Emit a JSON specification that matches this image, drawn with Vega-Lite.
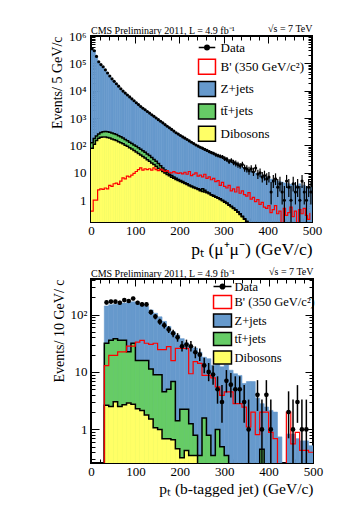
{
  "$schema": "https://vega.github.io/schema/vega-lite/v6.json",
  "background": "white",
  "padding": {"left": 49, "top": 22, "right": 5, "bottom": 5},
  "spacing": 6,
  "resolve": {
    "scale": {"x": "independent", "y": "independent", "fill": "independent", "stroke": "independent", "shape": "independent"},
    "legend": {"fill": "independent", "stroke": "independent", "shape": "independent"}
  },
  "config": {
    "view": {"stroke": "#000000", "strokeWidth": 2},
    "axis": {"grid": false, "domain": false, "tickColor": "#000000", "tickWidth": 1, "labelFont": "Liberation Serif", "labelFontSize": 13, "labelColor": "#000000", "titleFont": "Liberation Serif", "titleFontSize": 14, "titleFontWeight": "normal", "titleColor": "#000000", "labelFlush": false, "labelOverlap": false},
    "legend": {"labelFont": "Liberation Serif", "labelFontSize": 13, "labelColor": "#000000"},
    "title": {"font": "Liberation Serif", "fontSize": 10, "fontWeight": "normal", "color": "#000000", "anchor": "start"}
  },
  "vconcat": [
    {
      "width": 221,
      "height": 186,
      "title": {"text": "CMS Preliminary 2011, L = 4.9 fb⁻¹", "frame": "group", "offset": 0, "dy": 12},
      "data": {"values": [
        {"lo":0,"hi":5,"c":2.5,"b":355000,"g":126,"w":79.4,"r":0.4,"d":340000},
        {"lo":5,"hi":10,"c":7.5,"b":282000,"g":178,"w":112,"r":1.0,"d":290000},
        {"lo":10,"hi":15,"c":12.5,"b":178000,"g":224,"w":151,"r":1.0,"d":180000},
        {"lo":15,"hi":20,"c":17.5,"b":112000,"g":263,"w":182,"r":2.4,"d":115000},
        {"lo":20,"hi":25,"c":22.5,"b":89100,"g":295,"w":200,"r":2.6,"d":90000},
        {"lo":25,"hi":30,"c":27.5,"b":74100,"g":316,"w":204,"r":2.5,"d":75000},
        {"lo":30,"hi":35,"c":32.5,"b":57500,"g":324,"w":204,"r":2.8,"d":58000},
        {"lo":35,"hi":40,"c":37.5,"b":43700,"g":316,"w":195,"r":2.6,"d":44500},
        {"lo":40,"hi":45,"c":42.5,"b":33900,"g":302,"w":186,"r":3.5,"d":34500},
        {"lo":45,"hi":50,"c":47.5,"b":26900,"g":288,"w":174,"r":3.2,"d":27300},
        {"lo":50,"hi":55,"c":52.5,"b":21900,"g":269,"w":162,"r":4.0,"d":22000},
        {"lo":55,"hi":60,"c":57.5,"b":17800,"g":251,"w":151,"r":4.2,"d":18000},
        {"lo":60,"hi":65,"c":62.5,"b":14500,"g":229,"w":138,"r":3.8,"d":14700},
        {"lo":65,"hi":70,"c":67.5,"b":11700,"g":209,"w":126,"r":5.0,"d":11800},
        {"lo":70,"hi":75,"c":72.5,"b":9550,"g":186,"w":115,"r":6.6,"d":9700},
        {"lo":75,"hi":80,"c":77.5,"b":8130,"g":166,"w":102,"r":6.0,"d":8200},
        {"lo":80,"hi":85,"c":82.5,"b":6920,"g":148,"w":93.3,"r":7.6,"d":7000},
        {"lo":85,"hi":90,"c":87.5,"b":5890,"g":132,"w":83.2,"r":7.1,"d":5950},
        {"lo":90,"hi":95,"c":92.5,"b":5010,"g":117,"w":74.1,"r":8.3,"d":5050},
        {"lo":95,"hi":100,"c":97.5,"b":4270,"g":105,"w":66.1,"r":9.5,"d":4300},
        {"lo":100,"hi":105,"c":102.5,"b":3630,"g":93.3,"w":57.5,"r":11.2,"d":3650},
        {"lo":105,"hi":110,"c":107.5,"b":3090,"g":83.2,"w":51.3,"r":13.2,"d":3120},
        {"lo":110,"hi":115,"c":112.5,"b":2630,"g":72.4,"w":44.7,"r":15.1,"d":2650},
        {"lo":115,"hi":120,"c":117.5,"b":2290,"g":64.6,"w":39.8,"r":12.6,"d":2300},
        {"lo":120,"hi":125,"c":122.5,"b":2000,"g":56.2,"w":34.7,"r":14.1,"d":2020},
        {"lo":125,"hi":130,"c":127.5,"b":1740,"g":49.0,"w":30.2,"r":13.2,"d":1750},
        {"lo":130,"hi":135,"c":132.5,"b":1510,"g":42.7,"w":26.3,"r":14.1,"d":1530},
        {"lo":135,"hi":140,"c":137.5,"b":1320,"g":36.3,"w":22.9,"r":12.6,"d":1330},
        {"lo":140,"hi":145,"c":142.5,"b":1150,"g":30.9,"w":20.0,"r":15.1,"d":1160},
        {"lo":145,"hi":150,"c":147.5,"b":1000,"g":26.3,"w":17.4,"r":13.2,"d":1010},
        {"lo":150,"hi":155,"c":152.5,"b":871,"g":21.9,"w":14.8,"r":12.0,"d":880},
        {"lo":155,"hi":160,"c":157.5,"b":759,"g":18.2,"w":12.9,"r":13.8,"d":765},
        {"lo":160,"hi":165,"c":162.5,"b":661,"g":15.1,"w":11.2,"r":12.6,"d":670},
        {"lo":165,"hi":170,"c":167.5,"b":575,"g":12.6,"w":9.77,"r":11.2,"d":580},
        {"lo":170,"hi":175,"c":172.5,"b":501,"g":10.5,"w":8.71,"r":12.0,"d":505},
        {"lo":175,"hi":180,"c":177.5,"b":437,"g":8.91,"w":7.76,"r":10.5,"d":440},
        {"lo":180,"hi":185,"c":182.5,"b":380,"g":7.94,"w":6.92,"r":10.0,"d":385},
        {"lo":185,"hi":190,"c":187.5,"b":331,"g":7.08,"w":6.31,"r":11.0,"d":335},
        {"lo":190,"hi":195,"c":192.5,"b":288,"g":6.31,"w":5.75,"r":10.0,"d":292},
        {"lo":195,"hi":200,"c":197.5,"b":257,"g":5.75,"w":5.25,"r":9.5,"d":260},
        {"lo":200,"hi":205,"c":202.5,"b":229,"g":5.25,"w":4.79,"r":10.0,"d":232},
        {"lo":205,"hi":210,"c":207.5,"b":204,"g":4.79,"w":4.47,"r":9.1,"d":206},
        {"lo":210,"hi":215,"c":212.5,"b":182,"g":4.37,"w":4.07,"r":10.5,"d":185},
        {"lo":215,"hi":220,"c":217.5,"b":162,"g":3.98,"w":3.72,"r":8.9,"d":165},
        {"lo":220,"hi":225,"c":222.5,"b":145,"g":3.63,"w":3.39,"r":11.2,"d":147},
        {"lo":225,"hi":230,"c":227.5,"b":129,"g":3.31,"w":3.09,"r":7.9,"d":131},
        {"lo":230,"hi":235,"c":232.5,"b":115,"g":3.02,"w":2.88,"r":8.9,"d":117},
        {"lo":235,"hi":240,"c":237.5,"b":102,"g":2.82,"w":2.69,"r":10.0,"d":104},
        {"lo":240,"hi":245,"c":242.5,"b":93.3,"g":2.63,"w":2.45,"r":7.6,"d":95,"el":85.5,"eh":105},
        {"lo":245,"hi":250,"c":247.5,"b":85.1,"g":2.40,"w":2.24,"r":8.3,"d":86,"el":77,"eh":96},
        {"lo":250,"hi":255,"c":252.5,"b":77.6,"g":2.63,"w":2.09,"r":7.1,"d":79,"el":70,"eh":89},
        {"lo":255,"hi":260,"c":257.5,"b":70.8,"g":2.29,"w":2.00,"r":8.9,"d":72,"el":64,"eh":81},
        {"lo":260,"hi":265,"c":262.5,"b":64.6,"g":2.00,"w":1.86,"r":6.3,"d":66,"el":58,"eh":75},
        {"lo":265,"hi":270,"c":267.5,"b":58.9,"g":1.82,"w":1.74,"r":7.1,"d":60,"el":52,"eh":69},
        {"lo":270,"hi":275,"c":272.5,"b":53.7,"g":1.58,"w":1.55,"r":5.6,"d":55,"el":48,"eh":63},
        {"lo":275,"hi":280,"c":277.5,"b":49.0,"g":1.48,"w":1.41,"r":6.3,"d":51,"el":44,"eh":59},
        {"lo":280,"hi":285,"c":282.5,"b":44.7,"g":1.35,"w":1.29,"r":4.8,"d":46,"el":39,"eh":54},
        {"lo":285,"hi":290,"c":287.5,"b":40.7,"g":1.23,"w":1.17,"r":5.2,"d":43,"el":36.5,"eh":50},
        {"lo":290,"hi":295,"c":292.5,"b":37.2,"g":1.12,"w":1.07,"r":3.5,"d":40,"el":34,"eh":47},
        {"lo":295,"hi":300,"c":297.5,"b":34.7,"g":1.00,"w":0.95,"r":4.5,"d":38,"el":32,"eh":45},
        {"lo":300,"hi":305,"c":302.5,"b":31.6,"g":0.89,"w":0.85,"r":3.2,"d":33,"el":27,"eh":40},
        {"lo":305,"hi":310,"c":307.5,"b":28.8,"g":0.79,"w":0.76,"r":2.8,"d":31,"el":25,"eh":38},
        {"lo":310,"hi":315,"c":312.5,"b":26.3,"g":0.69,"w":0.66,"r":3.5,"d":26,"el":21,"eh":32},
        {"lo":315,"hi":320,"c":317.5,"b":24.0,"g":0.60,"w":0.58,"r":2.2,"d":28,"el":23,"eh":34},
        {"lo":320,"hi":325,"c":322.5,"b":22.4,"g":0.52,"w":0.50,"r":2.6,"d":24,"el":19,"eh":30},
        {"lo":325,"hi":330,"c":327.5,"b":20.4,"g":0.45,"w":0.43,"r":2.0,"d":22,"el":17,"eh":28},
        {"lo":330,"hi":335,"c":332.5,"b":19.1,"g":0.38,"w":0.36,"r":3.0,"d":20,"el":15.5,"eh":25.5},
        {"lo":335,"hi":340,"c":337.5,"b":17.4,"g":0.32,"w":0.30,"r":1.8,"d":18,"el":14,"eh":23},
        {"lo":340,"hi":345,"c":342.5,"b":15.8,"g":0.26,"w":0.25,"r":2.2,"d":20,"el":15.5,"eh":25.5},
        {"lo":345,"hi":350,"c":347.5,"b":14.8,"g":0.21,"w":0.20,"r":1.6,"d":15,"el":11,"eh":20},
        {"lo":350,"hi":355,"c":352.5,"b":13.8,"g":0.17,"w":0.16,"r":1.4,"d":14,"el":10.3,"eh":19},
        {"lo":355,"hi":360,"c":357.5,"b":12.6,"g":0.01,"w":0.01,"r":1.9,"d":12,"el":8.6,"eh":16.6},
        {"lo":360,"hi":365,"c":362.5,"b":11.7,"g":0.01,"w":0.01,"r":1.1,"d":14,"el":10.3,"eh":19},
        {"lo":365,"hi":370,"c":367.5,"b":11.0,"g":0.01,"w":0.01,"r":1.26,"d":11,"el":7.7,"eh":15.4},
        {"lo":370,"hi":375,"c":372.5,"b":10.0,"g":0.01,"w":0.01,"r":0.89,"d":15,"el":11,"eh":20},
        {"lo":375,"hi":380,"c":377.5,"b":9.33,"g":0.01,"w":0.01,"r":1.05,"d":9,"el":6,"eh":13},
        {"lo":380,"hi":385,"c":382.5,"b":8.71,"g":0.01,"w":0.01,"r":0.71,"d":10,"el":6.9,"eh":14.3},
        {"lo":385,"hi":390,"c":387.5,"b":7.94,"g":0.01,"w":0.01,"r":0.83,"d":7,"el":4.4,"eh":10.8},
        {"lo":390,"hi":395,"c":392.5,"b":7.41,"g":0.01,"w":0.01,"r":0.56,"d":8,"el":5.2,"eh":12},
        {"lo":395,"hi":400,"c":397.5,"b":6.92,"g":0.01,"w":0.01,"r":0.50,"d":6,"el":3.6,"eh":9.6},
        {"lo":400,"hi":405,"c":402.5,"b":6.31,"g":0.01,"w":0.01,"r":0.63,"d":7,"el":4.4,"eh":10.8},
        {"lo":405,"hi":410,"c":407.5,"b":5.89,"g":0.01,"w":0.01,"r":0.35,"d":2,"el":0.7,"eh":4.6},
        {"lo":410,"hi":415,"c":412.5,"b":5.62,"g":0.01,"w":0.01,"r":0.45,"d":5,"el":2.8,"eh":8.4},
        {"lo":415,"hi":420,"c":417.5,"b":5.25,"g":0.01,"w":0.01,"r":0.63,"d":6,"el":3.6,"eh":9.6},
        {"lo":420,"hi":425,"c":422.5,"b":5.01,"g":0.01,"w":0.01,"r":0.32,"d":3,"el":1.3,"eh":5.9},
        {"lo":425,"hi":430,"c":427.5,"b":4.79,"g":0.01,"w":0.01,"r":0.40,"d":4,"el":2.1,"eh":7.2},
        {"lo":430,"hi":435,"c":432.5,"b":4.57,"g":0.01,"w":0.01,"r":0.01,"d":2,"el":0.7,"eh":4.6},
        {"lo":435,"hi":440,"c":437.5,"b":4.27,"g":0.01,"w":0.01,"r":0.50,"d":1,"el":0.1,"eh":3.3},
        {"lo":440,"hi":445,"c":442.5,"b":4.07,"g":0.01,"w":0.01,"r":0.28,"d":5,"el":2.8,"eh":8.4},
        {"lo":445,"hi":450,"c":447.5,"b":3.98,"g":0.01,"w":0.01,"r":0.35,"d":3,"el":1.3,"eh":5.9},
        {"lo":450,"hi":455,"c":452.5,"b":3.80,"g":0.01,"w":0.01,"r":0.56,"d":1,"el":0.1,"eh":3.3},
        {"lo":455,"hi":460,"c":457.5,"b":4.17,"g":0.01,"w":0.01,"r":0.25,"d":4,"el":2.1,"eh":7.2},
        {"lo":460,"hi":465,"c":462.5,"b":3.55,"g":0.01,"w":0.01,"r":0.40,"d":2,"el":0.7,"eh":4.6},
        {"lo":465,"hi":470,"c":467.5,"b":3.39,"g":0.01,"w":0.01,"r":0.01,"d":3,"el":1.3,"eh":5.9},
        {"lo":470,"hi":475,"c":472.5,"b":3.98,"g":0.01,"w":0.01,"r":0.45,"d":1,"el":0.1,"eh":3.3},
        {"lo":475,"hi":480,"c":477.5,"b":3.31,"g":0.01,"w":0.01,"r":0.32,"d":5,"el":2.8,"eh":8.4},
        {"lo":480,"hi":485,"c":482.5,"b":3.55,"g":0.01,"w":0.01,"r":0.50,"d":2,"el":0.7,"eh":4.6},
        {"lo":485,"hi":490,"c":487.5,"b":3.02,"g":0.01,"w":0.01,"r":0.28,"d":1,"el":0.1,"eh":3.3},
        {"lo":490,"hi":495,"c":492.5,"b":3.16,"g":0.01,"w":0.01,"r":0.20,"d":3,"el":1.3,"eh":5.9},
        {"lo":495,"hi":500,"c":497.5,"b":2.95,"g":0.01,"w":0.01,"r":0.35,"d":2,"el":0.7,"eh":4.6}
      ]},
      "resolve": {"axis": {"x": "independent", "y": "independent"}},
      "layer": [
        {
          "mark": {"type": "rect", "color": "#6699cc", "stroke": "#6699cc", "strokeWidth": 0.6, "clip": true},
          "encoding": {
            "x": {"field": "lo", "type": "quantitative", "scale": {"domain": [0, 500], "nice": false, "zero": false},
              "axis": {"orient": "bottom", "values": [0,20,40,60,80,100,120,140,160,180,200,220,240,260,280,300,320,340,360,380,400,420,440,460,480,500], "labelExpr": "datum.value % 100 == 0 ? datum.label : ''", "tickSize": {"condition": {"test": "datum.value % 100 == 0", "value": -7}, "value": -4}, "labelPadding": 9, "title": "pₜ (μ⁺μ⁻) (GeV/c)", "titleAnchor": "end", "titlePadding": 0, "titleFontSize": 17.5}},
            "x2": {"field": "hi"},
            "y": {"field": "b", "type": "quantitative", "scale": {"type": "log", "domain": [0.16, 1000000], "nice": false},
              "axis": {"orient": "left", "values": [0.2,0.3,0.4,0.5,0.6,0.7,0.8,0.9,1,2,3,4,5,6,7,8,9,10,20,30,40,50,60,70,80,90,100,200,300,400,500,600,700,800,900,1000,2000,3000,4000,5000,6000,7000,8000,9000,10000,20000,30000,40000,50000,60000,70000,80000,90000,100000,200000,300000,400000,500000,600000,700000,800000,900000,1000000], "labelExpr": "datum.value == 1 ? '1' : datum.value == 10 ? '10' : datum.value == 100 ? '10²' : datum.value == 1000 ? '10³' : datum.value == 10000 ? '10⁴' : datum.value == 100000 ? '10⁵' : datum.value == 1000000 ? '10⁶' : ''", "tickSize": {"condition": {"test": "indexof([1,10,100,1000,10000,100000,1000000], datum.value) >= 0", "value": -8}, "value": -4}, "labelPadding": 13, "title": "Events/ 5 GeV/c", "titleAnchor": "end", "titlePadding": 4}},
            "y2": {"datum": 0.01}
          }
        },
        {
          "mark": {"type": "rect", "color": "#66cc66", "stroke": "#66cc66", "strokeWidth": 0.6, "clip": true},
          "encoding": {
            "x": {"field": "lo", "type": "quantitative",
              "axis": {"orient": "top", "values": [0,20,40,60,80,100,120,140,160,180,200,220,240,260,280,300,320,340,360,380,400,420,440,460,480,500], "labels": false, "tickSize": {"condition": {"test": "datum.value % 100 == 0", "value": -7}, "value": -4}, "title": "√s = 7 TeV", "titleAnchor": "end", "titleFontSize": 10, "titlePadding": 2}},
            "x2": {"field": "hi"},
            "y": {"field": "g", "type": "quantitative",
              "axis": {"orient": "right", "values": [0.2,0.3,0.4,0.5,0.6,0.7,0.8,0.9,1,2,3,4,5,6,7,8,9,10,20,30,40,50,60,70,80,90,100,200,300,400,500,600,700,800,900,1000,2000,3000,4000,5000,6000,7000,8000,9000,10000,20000,30000,40000,50000,60000,70000,80000,90000,100000,200000,300000,400000,500000,600000,700000,800000,900000,1000000], "labels": false, "tickSize": {"condition": {"test": "indexof([1,10,100,1000,10000,100000,1000000], datum.value) >= 0", "value": -8}, "value": -4}, "title": null}},
            "y2": {"datum": 0.01}
          }
        },
        {
          "mark": {"type": "rect", "color": "#ffff66", "stroke": "#ffff66", "strokeWidth": 0.6, "clip": true},
          "encoding": {
            "x": {"field": "lo", "type": "quantitative", "axis": null},
            "x2": {"field": "hi"},
            "y": {"field": "w", "type": "quantitative", "axis": null},
            "y2": {"datum": 0.01}
          }
        },
        {
          "mark": {"type": "line", "interpolate": "step-after", "color": "#000000", "strokeWidth": 1.5, "clip": true},
          "encoding": {
            "x": {"field": "lo", "type": "quantitative", "axis": null},
            "y": {"field": "g", "type": "quantitative", "axis": null}
          }
        },
        {
          "mark": {"type": "line", "interpolate": "step-after", "color": "#000000", "strokeWidth": 1.5, "clip": true},
          "encoding": {
            "x": {"field": "lo", "type": "quantitative", "axis": null},
            "y": {"field": "w", "type": "quantitative", "axis": null}
          }
        },
        {
          "mark": {"type": "line", "interpolate": "step-after", "color": "#ff0000", "strokeWidth": 1.2, "clip": true},
          "encoding": {
            "x": {"field": "lo", "type": "quantitative", "axis": null},
            "y": {"field": "r", "type": "quantitative", "axis": null}
          }
        },
        {
          "mark": {"type": "rule", "color": "#000000", "strokeWidth": 1.2, "clip": true},
          "encoding": {
            "x": {"field": "c", "type": "quantitative", "axis": null},
            "y": {"field": "el", "type": "quantitative", "axis": null},
            "y2": {"field": "eh"}
          }
        },
        {
          "mark": {"type": "point", "filled": true, "color": "#000000", "size": 10, "opacity": 1, "clip": true},
          "encoding": {
            "x": {"field": "c", "type": "quantitative", "axis": null},
            "y": {"field": "d", "type": "quantitative", "axis": null}
          }
        },
        {
          "data": {"values": [{"k": "Data"}, {"k": "B' (350 GeV/c²)"}, {"k": "Z+jets"}, {"k": "tt̄+jets"}, {"k": "Dibosons"}]},
          "mark": {"type": "point", "filled": true, "opacity": 0},
          "encoding": {
            "fill": {"field": "k", "type": "nominal",
              "scale": {"domain": ["Data", "B' (350 GeV/c²)", "Z+jets", "tt̄+jets", "Dibosons"], "range": ["#000000", "#ffffff", "#6699cc", "#66cc66", "#ffff66"]},
              "legend": {"title": null, "orient": "none", "legendX": 107.5, "legendY": 3, "symbolSize": 225, "symbolStrokeWidth": 1.5, "symbolOpacity": 1, "rowPadding": 1.3, "labelOffset": 5, "padding": 0}},
            "stroke": {"field": "k", "type": "nominal",
              "scale": {"domain": ["Data", "B' (350 GeV/c²)", "Z+jets", "tt̄+jets", "Dibosons"], "range": ["#000000", "#ff0000", "#000000", "#000000", "#000000"]},
              "legend": {"title": null, "orient": "none", "legendX": 107.5, "legendY": 3, "symbolSize": 225, "symbolStrokeWidth": 1.5, "symbolOpacity": 1, "rowPadding": 1.3, "labelOffset": 5, "padding": 0}},
            "shape": {"field": "k", "type": "nominal",
              "scale": {"domain": ["Data", "B' (350 GeV/c²)", "Z+jets", "tt̄+jets", "Dibosons"], "range": ["M-1.1,0H1.1M-0.3,0A0.3,0.3 0 1 1 0.3,0A0.3,0.3 0 1 1 -0.3,0Z", "M-1.13,-1H1.13V1H-1.13Z", "M-1.13,-1H1.13V1H-1.13Z", "M-1.13,-1H1.13V1H-1.13Z", "M-1.13,-1H1.13V1H-1.13Z"]},
              "legend": {"title": null, "orient": "none", "legendX": 107.5, "legendY": 3, "symbolSize": 225, "symbolStrokeWidth": 1.5, "symbolOpacity": 1, "rowPadding": 1.3, "labelOffset": 5, "padding": 0}}
          }
        }
      ]
    },
    {
      "width": 222,
      "height": 184,
      "title": {"text": "CMS Preliminary 2011, L = 4.9 fb⁻¹", "frame": "group", "offset": 0, "dy": 12},
      "data": {"values": [
        {"lo":0,"hi":10,"c":5,"b":0.01,"g":0.01,"w":0.01,"r":0.01},
        {"lo":10,"hi":20,"c":15,"b":0.01,"g":0.01,"w":0.01,"r":0.01},
        {"lo":20,"hi":30,"c":25,"b":0.01,"g":0.01,"w":0.01,"r":0.01},
        {"lo":30,"hi":40,"c":35,"b":141,"g":31.6,"w":2.63,"r":12.9,"d":162,"el":149.6,"eh":175},
        {"lo":40,"hi":50,"c":45,"b":148,"g":35.5,"w":2.51,"r":19.5,"d":168,"el":155,"eh":181},
        {"lo":50,"hi":60,"c":55,"b":151,"g":38.0,"w":3.02,"r":19.5,"d":167,"el":154,"eh":180},
        {"lo":60,"hi":70,"c":65,"b":155,"g":35.5,"w":2.51,"r":22.4,"d":160,"el":147.5,"eh":173},
        {"lo":70,"hi":80,"c":75,"b":158,"g":35.5,"w":2.69,"r":22.4,"d":178,"el":165,"eh":191.8},
        {"lo":80,"hi":90,"c":85,"b":162,"g":22.4,"w":2.88,"r":28.2,"d":172,"el":159,"eh":185.6},
        {"lo":90,"hi":100,"c":95,"b":166,"g":31.6,"w":2.75,"r":28.2,"d":190,"el":176.3,"eh":204.3},
        {"lo":100,"hi":110,"c":105,"b":158,"g":15.8,"w":2.29,"r":33.1,"d":160,"el":147.5,"eh":173},
        {"lo":110,"hi":120,"c":115,"b":148,"g":15.8,"w":2.14,"r":35.5,"d":150,"el":137.8,"eh":162.8},
        {"lo":120,"hi":130,"c":125,"b":138,"g":15.8,"w":1.78,"r":31.6,"d":150,"el":137.8,"eh":162.8},
        {"lo":130,"hi":140,"c":135,"b":120,"g":11.2,"w":1.51,"r":30.2,"d":110,"el":99.5,"eh":121},
        {"lo":140,"hi":150,"c":145,"b":105,"g":8.9,"w":1.07,"r":31.6,"d":92,"el":82.4,"eh":102},
        {"lo":150,"hi":160,"c":155,"b":91,"g":8.9,"w":1.0,"r":24.5,"d":75,"el":66.4,"eh":84.2},
        {"lo":160,"hi":170,"c":165,"b":76,"g":4.5,"w":0.69,"r":24.5,"d":65,"el":57,"eh":73.5},
        {"lo":170,"hi":180,"c":175,"b":62,"g":5.0,"w":0.69,"r":27.5,"d":55,"el":47.6,"eh":63},
        {"lo":180,"hi":190,"c":185,"b":50,"g":6.8,"w":0.66,"r":15.8,"d":47,"el":40.2,"eh":54.4},
        {"lo":190,"hi":200,"c":195,"b":44,"g":1.41,"w":0.46,"r":25.7,"d":40,"el":33.6,"eh":47.4},
        {"lo":200,"hi":210,"c":205,"b":38,"g":2.24,"w":0.32,"r":25.7,"d":28,"el":22.7,"eh":34.5},
        {"lo":210,"hi":220,"c":215,"b":32,"g":2.24,"w":0.43,"r":25.7,"d":30,"el":24.5,"eh":36.5},
        {"lo":220,"hi":230,"c":225,"b":28,"g":1.26,"w":0.35,"r":9.3,"d":28,"el":22.7,"eh":34.5},
        {"lo":230,"hi":240,"c":235,"b":26,"g":0.79,"w":0.35,"r":15.1,"d":22,"el":17.3,"eh":27.8},
        {"lo":240,"hi":250,"c":245,"b":22,"g":0.35,"w":0.01,"r":14.1,"d":20,"el":15.5,"eh":25.5},
        {"lo":250,"hi":260,"c":255,"b":18,"g":1.58,"w":0.01,"r":8.7,"d":13,"el":9.5,"eh":17.7},
        {"lo":260,"hi":270,"c":265,"b":17,"g":0.79,"w":0.01,"r":8.7,"d":10,"el":6.9,"eh":14.3},
        {"lo":270,"hi":280,"c":275,"b":13,"g":0.35,"w":0.01,"r":7.9,"d":9,"el":6,"eh":13},
        {"lo":280,"hi":290,"c":285,"b":14,"g":1.0,"w":0.01,"r":5.5,"d":5,"el":2.8,"eh":8.4},
        {"lo":290,"hi":300,"c":295,"b":12.3,"g":0.5,"w":0.01,"r":3.9,"d":3,"el":1.3,"eh":5.9},
        {"lo":300,"hi":310,"c":305,"b":13.2,"g":0.35,"w":0.01,"r":4.5,"d":7,"el":4.4,"eh":10.8},
        {"lo":310,"hi":320,"c":315,"b":10.7,"g":0.01,"w":0.01,"r":4.5,"d":6,"el":3.6,"eh":9.6},
        {"lo":320,"hi":330,"c":325,"b":9.3,"g":0.01,"w":0.01,"r":2.8,"d":5,"el":2.8,"eh":8.4},
        {"lo":330,"hi":340,"c":335,"b":8.7,"g":0.01,"w":0.01,"r":2.8,"d":5,"el":2.8,"eh":8.4},
        {"lo":340,"hi":350,"c":345,"b":6.3,"g":0.01,"w":0.01,"r":2.45,"d":3,"el":1.3,"eh":5.9},
        {"lo":350,"hi":360,"c":355,"b":6.8,"g":0.01,"w":0.01,"r":1.1,"d":1,"el":0.1,"eh":3.3},
        {"lo":360,"hi":370,"c":365,"b":6.8,"g":0.01,"w":0.01,"r":2.0},
        {"lo":370,"hi":380,"c":375,"b":3.5,"g":0.01,"w":0.01,"r":0.81,"d":4,"el":2.1,"eh":7.2},
        {"lo":380,"hi":390,"c":385,"b":2.8,"g":0.45,"w":0.01,"r":2.0,"d":1,"el":0.1,"eh":3.3},
        {"lo":390,"hi":400,"c":395,"b":2.45,"g":0.01,"w":0.01,"r":2.0,"d":4,"el":2.1,"eh":7.2},
        {"lo":400,"hi":410,"c":405,"b":2.14,"g":0.01,"w":0.01,"r":0.89,"d":1,"el":0.1,"eh":3.3},
        {"lo":410,"hi":420,"c":415,"b":2.0,"g":0.01,"w":0.01,"r":0.69},
        {"lo":420,"hi":430,"c":425,"b":0.74,"g":0.01,"w":0.01,"r":0.01},
        {"lo":430,"hi":440,"c":435,"b":0.01,"g":0.01,"w":0.01,"r":0.01},
        {"lo":440,"hi":450,"c":445,"b":0.83,"g":0.01,"w":0.01,"r":2.0,"d":2,"el":0.7,"eh":4.6},
        {"lo":450,"hi":460,"c":455,"b":0.83,"g":0.01,"w":0.01,"r":0.56,"d":1,"el":0.1,"eh":3.3},
        {"lo":460,"hi":470,"c":465,"b":0.69,"g":0.01,"w":0.01,"r":0.89,"d":3,"el":1.3,"eh":5.9},
        {"lo":470,"hi":480,"c":475,"b":0.63,"g":0.01,"w":0.01,"r":0.43,"d":1,"el":0.1,"eh":3.3},
        {"lo":480,"hi":490,"c":485,"b":0.63,"g":0.01,"w":0.01,"r":0.43,"d":1,"el":0.1,"eh":3.3},
        {"lo":490,"hi":500,"c":495,"b":0.52,"g":0.01,"w":0.01,"r":0.40}
      ]},
      "resolve": {"axis": {"x": "independent", "y": "independent"}},
      "layer": [
        {
          "mark": {"type": "rect", "color": "#6699cc", "stroke": "#6699cc", "strokeWidth": 0.6, "clip": true},
          "encoding": {
            "x": {"field": "lo", "type": "quantitative", "scale": {"domain": [0, 500], "nice": false, "zero": false},
              "axis": {"orient": "bottom", "values": [0,20,40,60,80,100,120,140,160,180,200,220,240,260,280,300,320,340,360,380,400,420,440,460,480,500], "labelExpr": "datum.value % 100 == 0 ? datum.label : ''", "tickSize": {"condition": {"test": "datum.value % 100 == 0", "value": -7}, "value": -4}, "labelPadding": 9, "title": "pₜ (b-tagged jet) (GeV/c)", "titleAnchor": "end", "titlePadding": 0, "titleFontSize": 15.5}},
            "x2": {"field": "hi"},
            "y": {"field": "b", "type": "quantitative", "scale": {"type": "log", "domain": [0.26, 415], "nice": false},
              "axis": {"orient": "left", "values": [0.3,0.4,0.5,0.6,0.7,0.8,0.9,1,2,3,4,5,6,7,8,9,10,20,30,40,50,60,70,80,90,100,200,300,400], "labelExpr": "datum.value == 1 ? '1' : datum.value == 10 ? '10' : datum.value == 100 ? '10²' : ''", "tickSize": {"condition": {"test": "indexof([1,10,100], datum.value) >= 0", "value": -8}, "value": -4}, "labelPadding": 12, "title": "Events/ 10 GeV/ c", "titleAnchor": "end", "titlePadding": 4}},
            "y2": {"datum": 0.01}
          }
        },
        {
          "mark": {"type": "rect", "color": "#66cc66", "stroke": "#66cc66", "strokeWidth": 0.6, "clip": true},
          "encoding": {
            "x": {"field": "lo", "type": "quantitative",
              "axis": {"orient": "top", "values": [0,20,40,60,80,100,120,140,160,180,200,220,240,260,280,300,320,340,360,380,400,420,440,460,480,500], "labels": false, "tickSize": {"condition": {"test": "datum.value % 100 == 0", "value": -7}, "value": -4}, "title": "√s = 7 TeV", "titleAnchor": "end", "titleFontSize": 10, "titlePadding": 2}},
            "x2": {"field": "hi"},
            "y": {"field": "g", "type": "quantitative",
              "axis": {"orient": "right", "values": [0.3,0.4,0.5,0.6,0.7,0.8,0.9,1,2,3,4,5,6,7,8,9,10,20,30,40,50,60,70,80,90,100,200,300,400], "labels": false, "tickSize": {"condition": {"test": "indexof([1,10,100], datum.value) >= 0", "value": -8}, "value": -4}, "title": null}},
            "y2": {"datum": 0.01}
          }
        },
        {
          "mark": {"type": "rect", "color": "#ffff66", "stroke": "#ffff66", "strokeWidth": 0.6, "clip": true},
          "encoding": {
            "x": {"field": "lo", "type": "quantitative", "axis": null},
            "x2": {"field": "hi"},
            "y": {"field": "w", "type": "quantitative", "axis": null},
            "y2": {"datum": 0.01}
          }
        },
        {
          "mark": {"type": "line", "interpolate": "step-before", "color": "#000000", "strokeWidth": 1.5, "clip": true},
          "encoding": {
            "x": {"field": "hi", "type": "quantitative", "axis": null},
            "y": {"field": "g", "type": "quantitative", "axis": null}
          }
        },
        {
          "mark": {"type": "line", "interpolate": "step-before", "color": "#000000", "strokeWidth": 1.5, "clip": true},
          "encoding": {
            "x": {"field": "hi", "type": "quantitative", "axis": null},
            "y": {"field": "w", "type": "quantitative", "axis": null}
          }
        },
        {
          "mark": {"type": "line", "interpolate": "step-before", "color": "#ff0000", "strokeWidth": 1.2, "clip": true},
          "encoding": {
            "x": {"field": "hi", "type": "quantitative", "axis": null},
            "y": {"field": "r", "type": "quantitative", "axis": null}
          }
        },
        {
          "mark": {"type": "rule", "color": "#000000", "strokeWidth": 1.5, "clip": true},
          "encoding": {
            "x": {"field": "c", "type": "quantitative", "axis": null},
            "y": {"field": "el", "type": "quantitative", "axis": null},
            "y2": {"field": "eh"}
          }
        },
        {
          "mark": {"type": "point", "filled": true, "color": "#000000", "size": 22, "opacity": 1, "clip": true},
          "encoding": {
            "x": {"field": "c", "type": "quantitative", "axis": null},
            "y": {"field": "d", "type": "quantitative", "axis": null}
          }
        },
        {
          "data": {"values": [{"k": "Data"}, {"k": "B' (350 GeV/c²)"}, {"k": "Z+jets"}, {"k": "tt̄+jets"}, {"k": "Dibosons"}]},
          "mark": {"type": "point", "filled": true, "opacity": 0},
          "encoding": {
            "fill": {"field": "k", "type": "nominal",
              "scale": {"domain": ["Data", "B' (350 GeV/c²)", "Z+jets", "tt̄+jets", "Dibosons"], "range": ["#000000", "#ffffff", "#6699cc", "#66cc66", "#ffff66"]},
              "legend": {"title": null, "orient": "none", "legendX": 124, "legendY": 0, "symbolSize": 169, "symbolStrokeWidth": 1.5, "symbolOpacity": 1, "rowPadding": -0.5, "labelOffset": 4.5, "labelFontSize": 12.5, "padding": 0}},
            "stroke": {"field": "k", "type": "nominal",
              "scale": {"domain": ["Data", "B' (350 GeV/c²)", "Z+jets", "tt̄+jets", "Dibosons"], "range": ["#000000", "#ff0000", "#000000", "#000000", "#000000"]},
              "legend": {"title": null, "orient": "none", "legendX": 124, "legendY": 0, "symbolSize": 169, "symbolStrokeWidth": 1.5, "symbolOpacity": 1, "rowPadding": -0.5, "labelOffset": 4.5, "labelFontSize": 12.5, "padding": 0}},
            "shape": {"field": "k", "type": "nominal",
              "scale": {"domain": ["Data", "B' (350 GeV/c²)", "Z+jets", "tt̄+jets", "Dibosons"], "range": ["M-1.38,0H1.38M-0.35,0A0.35,0.35 0 1 1 0.35,0A0.35,0.35 0 1 1 -0.35,0Z", "M-1.38,-1H1.38V1H-1.38Z", "M-1.38,-1H1.38V1H-1.38Z", "M-1.38,-1H1.38V1H-1.38Z", "M-1.38,-1H1.38V1H-1.38Z"]},
              "legend": {"title": null, "orient": "none", "legendX": 124, "legendY": 0, "symbolSize": 169, "symbolStrokeWidth": 1.5, "symbolOpacity": 1, "rowPadding": -0.5, "labelOffset": 4.5, "labelFontSize": 12.5, "padding": 0}}
          }
        }
      ]
    }
  ]
}
